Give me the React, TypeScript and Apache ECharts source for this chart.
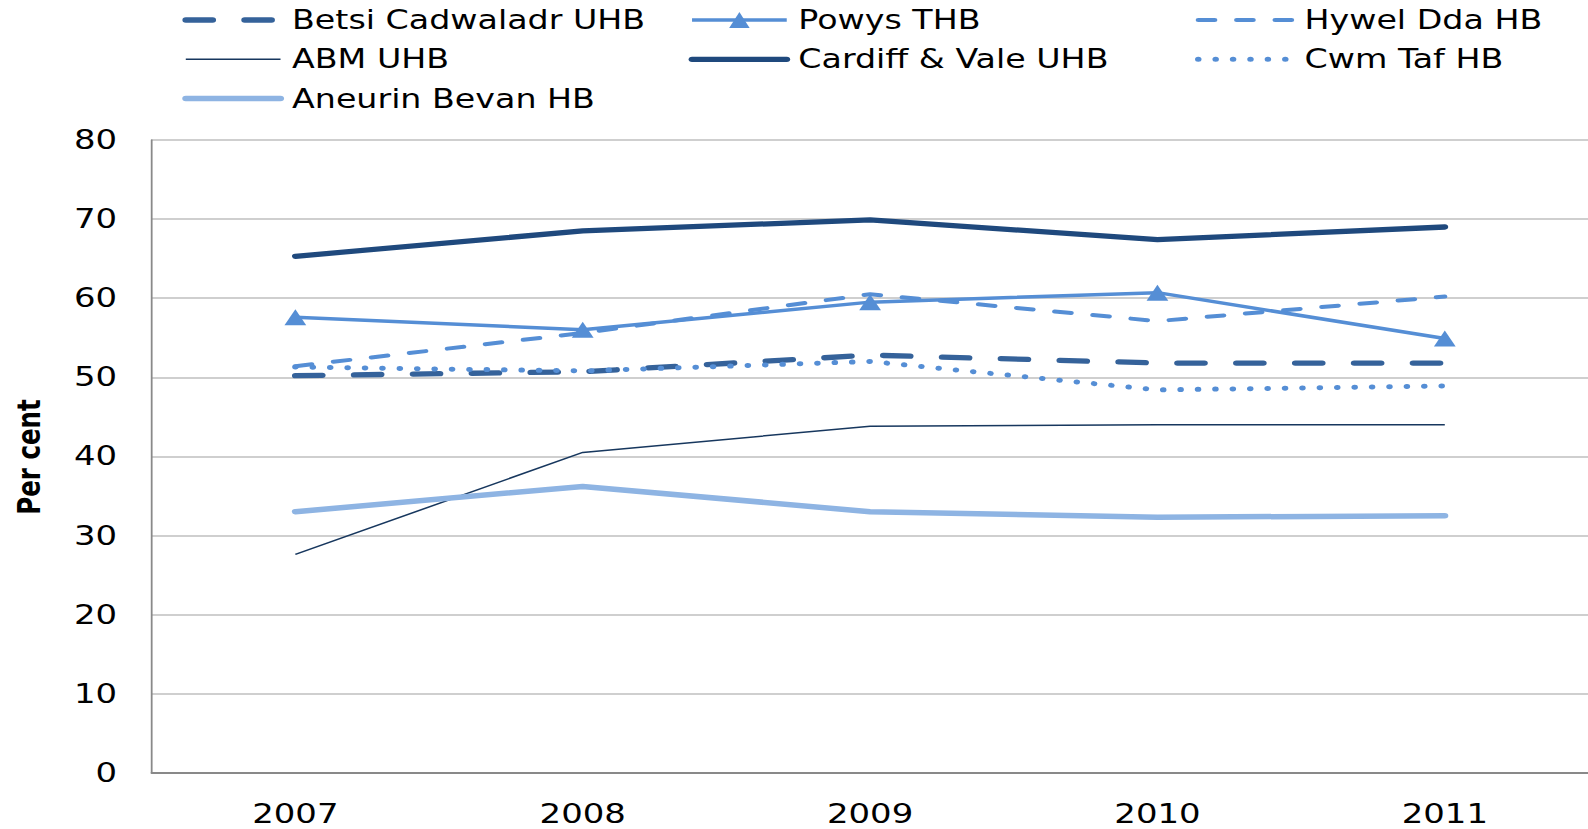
import React, { useEffect, useRef } from "react";
import * as echarts from "echarts";

const years = ["2007", "2008", "2009", "2010", "2011"];
const betsi = [50.2, 50.7, 52.8, 51.8, 51.8];
const powys = [57.6, 56.0, 59.5, 60.7, 54.9];
const hywel = [51.4, 55.6, 60.5, 57.1, 60.2];
const abm = [27.6, 40.5, 43.8, 44.0, 44.0];
const cardiff = [65.3, 68.5, 69.9, 67.4, 69.0];
const cwmTaf = [51.3, 50.8, 52.0, 48.4, 48.9];
const aneurin = [33.0, 36.2, 33.0, 32.3, 32.5];

const yTicks = { min: 0, max: 80, interval: 10 };

// The reference is rendered horizontally stretched; draw at a narrower width and stretch.
const STRETCH = 1.28;
const FULL_W = 1588;
const FULL_H = 829;
const W = Math.round(FULL_W / STRETCH);

const FONT = "'DejaVu Sans', Verdana, sans-serif";

const styles: Record<string, any> = {
  "Betsi Cadwaladr UHB": { color: "#35629a", width: 5.3, type: [21, 25], cap: "round" },
  "Powys THB": { color: "#558ed5", width: 3.5, type: "solid", cap: "butt" },
  "Hywel Dda HB": { color: "#558ed5", width: 4, type: [13, 17], cap: "round" },
  "ABM UHB": { color: "#17375e", width: 1.5, type: "solid", cap: "butt" },
  "Cardiff & Vale UHB": { color: "#1f497d", width: 5.3, type: "solid", cap: "round" },
  "Cwm Taf HB": { color: "#558ed5", width: 5, type: [0.1, 13.5], cap: "round" },
  "Aneurin Bevan HB": { color: "#8eb4e3", width: 5.5, type: "solid", cap: "round" },
};

function legendItem(name: string) {
  const s = styles[name];
  const isPowys = name === "Powys THB";
  return {
    name,
    lineStyle: { color: s.color, width: s.width, type: s.type, cap: s.cap },
    itemStyle: isPowys
      ? { color: s.color, borderWidth: 0 }
      : { color: s.color, borderWidth: 0, opacity: 0 },
  };
}

export default function App() {
  const ref = useRef<HTMLDivElement>(null);
  useEffect(() => {
    if (!ref.current) return;
    const chart = echarts.init(ref.current, null, { renderer: "svg" });
    const legendBase = {
      orient: "vertical",
      top: 7,
      padding: 0,
      itemWidth: 74,
      itemHeight: 20,
      itemGap: 13.3,
      textStyle: {
        fontFamily: FONT,
        fontSize: 26,
        lineHeight: 26,
        color: "#000",
        padding: [0, 0, 0, 4],
      },
    };
    const mkSeries = (name: string, data: number[]) => {
      const s = styles[name];
      const isPowys = name === "Powys THB";
      return {
        name,
        type: "line",
        data,
        symbol: isPowys ? "triangle" : "none",
        symbolSize: [17, 16],
        color: s.color,
        itemStyle: { color: s.color, borderWidth: 0 },
        lineStyle: { color: s.color, width: s.width, type: s.type, cap: s.cap, join: "round" },
      };
    };
    chart.setOption({
      animation: false,
      backgroundColor: "#fff",
      grid: { left: 118.5, top: 140, width: 1129, height: 632.7, containLabel: false },
      legend: [
        {
          ...legendBase,
          left: 142.4,
          data: ["Betsi Cadwaladr UHB", "ABM UHB", "Aneurin Bevan HB"].map(legendItem),
        },
        { ...legendBase, left: 538, data: ["Powys THB", "Cardiff & Vale UHB"].map(legendItem) },
        { ...legendBase, left: 933.6, data: ["Hywel Dda HB", "Cwm Taf HB"].map(legendItem) },
      ],
      xAxis: {
        type: "category",
        data: years,
        boundaryGap: true,
        axisLine: { show: true, lineStyle: { color: "#898989", width: 1.8 } },
        axisTick: { show: false },
        axisLabel: { fontFamily: FONT, fontSize: 26.5, color: "#000", margin: 28 },
        splitLine: { show: false },
      },
      yAxis: {
        type: "value",
        min: yTicks.min,
        max: yTicks.max,
        interval: yTicks.interval,
        axisLine: { show: true, lineStyle: { color: "#898989", width: 1.4 } },
        axisTick: { show: false },
        axisLabel: { fontFamily: FONT, fontSize: 26.5, color: "#000", margin: 27 },
        splitLine: { show: true, lineStyle: { color: "#bfbfbf", width: 1.5 } },
      },
      graphic: [
        {
          type: "text",
          x: 23,
          y: 457,
          rotation: Math.PI / 2,
          style: {
            text: "Per cent",
            fontFamily: FONT,
            fontWeight: "bold",
            fontSize: 24.5,
            fill: "#000",
            align: "center",
            verticalAlign: "middle",
          },
        },
      ],
      series: [
        mkSeries("Betsi Cadwaladr UHB", betsi),
        mkSeries("Powys THB", powys),
        mkSeries("Hywel Dda HB", hywel),
        mkSeries("ABM UHB", abm),
        mkSeries("Cardiff & Vale UHB", cardiff),
        mkSeries("Cwm Taf HB", cwmTaf),
        mkSeries("Aneurin Bevan HB", aneurin),
      ],
    });
    return () => chart.dispose();
  }, []);
  return (
    <div
      style={{
        position: "fixed",
        left: 0,
        top: 0,
        width: FULL_W,
        height: FULL_H,
        overflow: "hidden",
        background: "#fff",
      }}
    >
      <div
        ref={ref}
        style={{
          width: W,
          height: FULL_H,
          transform: `scaleX(${STRETCH})`,
          transformOrigin: "0 0",
        }}
      />
    </div>
  );
}
